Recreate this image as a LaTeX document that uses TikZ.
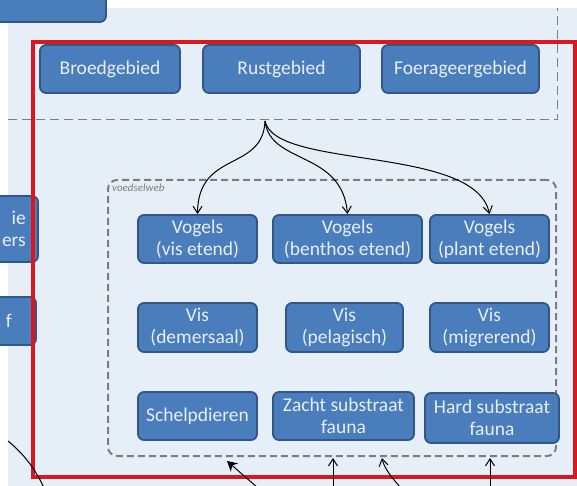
\documentclass[tikz,border=0pt]{standalone}
\usepackage{fontspec}
\setmainfont{Carlito}
\usetikzlibrary{arrows.meta}
\definecolor{bgblue}{RGB}{230,238,247}
\definecolor{boxfill}{RGB}{74,125,187}
\definecolor{boxborder}{RGB}{50,86,134}
\definecolor{boxtext}{RGB}{232,238,247}
\definecolor{dashgray}{RGB}{125,125,128}
\definecolor{redframe}{RGB}{218,22,30}
\newcommand{\boxfont}{\fontsize{19.5}{22}\selectfont}
\tikzset{
  box/.style={draw=boxborder, line width=1.8pt, fill=boxfill, rounded corners=6pt,
    text=boxtext, align=center, inner sep=0pt, font=\boxfont},
  vwbox/.style={draw=dashgray, line width=2pt, dash pattern=on 7pt off 4pt, rounded corners=9pt, inner sep=0pt},
  conn/.style={draw=black, line width=1pt, -{Straight Barb[length=7pt,width=9pt,line width=1pt]}},
  connf/.style={draw=black, line width=1pt, -{Stealth[length=10pt,width=11pt]}},
}
\begin{document}
\begin{tikzpicture}[x=1pt,y=-1pt]
\useasboundingbox (0,0) rectangle (577,486);
\clip (0,0) rectangle (577,486);
\fill[white] (0,0) rectangle (577,486);
\fill[bgblue] (8,8) rectangle (577,486);
% upper dashed region
\draw[dashgray, line width=1pt, dash pattern=on 9pt off 5pt] (8,120) -- (557,120) -- (557,8);
% partial boxes at left / top
\node[box, minimum width=126, minimum height=48] (tl) at (43,-2) {};
\node[box, minimum width=70, minimum height=66] (lb1) at (3,229) {};
\node[anchor=east, align=right, text=boxtext, font=\boxfont, inner sep=0pt] (lt1) at (26,229) {ie\hspace{6pt}\\ers};
\node[box, minimum width=70, minimum height=48] (lb2) at (1,321) {};
\node[anchor=east, text=boxtext, font=\boxfont, inner sep=0pt] (lt2) at (12,321) {f};
% red frame
\draw[redframe, line width=4pt] (33,42) rectangle (574.5,477);
% voedselweb
\node[vwbox, minimum width=448, minimum height=276] (vw) at (332,318) {};
\node[anchor=west, inner sep=0pt, text=dashgray, font=\fontsize{11}{12}\selectfont\itshape] (vwl) at (112,188) {voedselweb};
% top boxes
\node[box, minimum width=140, minimum height=48] (broed) at (110,69) {Broedgebied};
\node[box, minimum width=157, minimum height=48] (rust) at (281.5,69) {Rustgebied};
\node[box, minimum width=157, minimum height=48] (foer) at (460.5,69) {Foerageergebied};
% food web boxes
\node[box, minimum width=119, minimum height=48] (vvis) at (197.5,239) {Vogels\\(vis etend)};
\node[box, minimum width=149, minimum height=48] (vben) at (347.5,239) {Vogels\\(benthos etend)};
\node[box, minimum width=119, minimum height=48] (vpla) at (489.5,239) {Vogels\\(plant etend)};
\node[box, minimum width=119, minimum height=49] (vdem) at (197.5,327.5) {Vis\\(demersaal)};
\node[box, minimum width=117, minimum height=49] (vpel) at (344.5,327.5) {Vis\\(pelagisch)};
\node[box, minimum width=119, minimum height=49] (vmig) at (489.5,327.5) {Vis\\(migrerend)};
\node[box, minimum width=119, minimum height=48] (schel) at (197.5,416) {Schelpdieren};
\node[box, minimum width=141, minimum height=48] (zacht) at (343.5,416) {Zacht substraat\\fauna};
\node[box, minimum width=134, minimum height=50] (hard) at (492,418) {Hard substraat\\fauna};
% connectors from habitat region
\coordinate (src) at (265,121);
\draw[conn] (src) .. controls (263,172) and (198,150) .. (vvis.north);
\draw[conn] (src) .. controls (270,165) and (342,150) .. (vben.north);
\draw[conn] (src) .. controls (275,170) and (475,145) .. (vpla.north);
% connectors from below
\coordinate (b1) at (258,488);
\coordinate (t1) at (227,461);
\coordinate (b2) at (333,488);
\coordinate (t2) at (333,458);
\coordinate (b3) at (401,488);
\coordinate (t3) at (382,458);
\coordinate (b4) at (490,488);
\coordinate (t4) at (490,458);
\coordinate (c1) at (8,441);
\coordinate (c2) at (44,488);
\draw[connf] (b1) -- (t1);
\draw[conn] (b2) -- (t2);
\draw[conn] (b3) .. controls (392,478) and (384,468) .. (t3);
\draw[conn] (b4) -- (t4);
\draw[black, line width=1pt] (c1) .. controls (24,454) and (36,470) .. (c2);
\end{tikzpicture}
\end{document}
